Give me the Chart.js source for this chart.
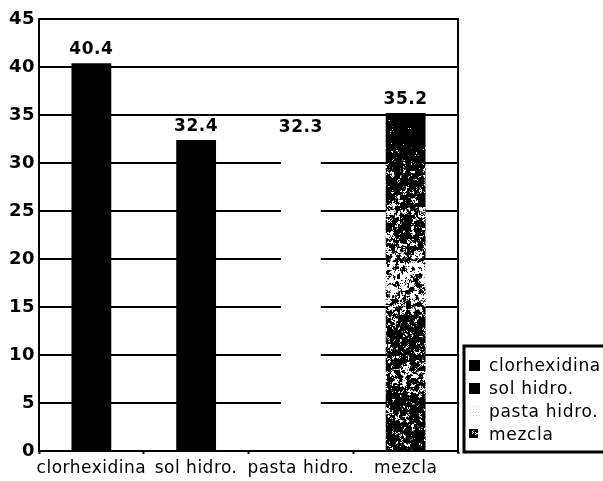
<!DOCTYPE html>
<html>
<head>
<meta charset="utf-8">
<script src="https://cdn.jsdelivr.net/npm/chart.js@4.4.1/dist/chart.umd.min.js"></script>
<style>
  html, body { margin: 0; padding: 0; background: #ffffff; }
  canvas { display: block; }
</style>
</head>
<body>
<canvas id="chart" width="603" height="481"></canvas>
<script>
// Treatment groups and their measured values
const categories = ['clorhexidina', 'sol hidro.', 'pasta hidro.', 'mezcla'];
const values = [40.4, 32.4, 32.3, 35.2];
const yTickValues = [0, 5, 10, 15, 20, 25, 30, 35, 40, 45];
const legendLabels = ['clorhexidina', 'sol hidro.', 'pasta hidro.', 'mezcla'];

// ---- grainy fill used for the "mezcla" bar (deterministic speckle texture) ----
function hash(x, y) {
  let h = Math.imul(x | 0, 374761393) + Math.imul(y | 0, 668265263);
  h = Math.imul(h ^ (h >>> 13), 1274126177);
  h ^= h >>> 16;
  return (h >>> 0) / 4294967296;
}
function smoothNoise(x, y, seed) {
  const xi = Math.floor(x), yi = Math.floor(y);
  const fx = x - xi, fy = y - yi;
  const a = hash(xi + seed, yi), b = hash(xi + 1 + seed, yi);
  const c = hash(xi + seed, yi + 1), d = hash(xi + 1 + seed, yi + 1);
  const u = fx * fx * (3 - 2 * fx), v = fy * fy * (3 - 2 * fy);
  return a + (b - a) * u + (c - a) * v + (a - b - c + d) * u * v;
}
// darkness of the speckle along the canvas height
const toneStops = [[0, 0.9], [140, 0.85], [165, 0.7], [195, 0.64], [212, 0.5], [225, 0.62],
                   [245, 0.58], [262, 0.47], [292, 0.47], [306, 0.55], [326, 0.68], [360, 0.66],
                   [376, 0.56], [393, 0.62], [410, 0.68], [481, 0.68]];
function toneAt(y) {
  for (let i = 1; i < toneStops.length; i++) {
    const [y1, t1] = toneStops[i];
    const [y0, t0] = toneStops[i - 1];
    if (y <= y1) return t0 + (t1 - t0) * (y - y0) / (y1 - y0);
  }
  return toneStops[toneStops.length - 1][1];
}
function makeGrainCanvas(w, h) {
  const c = document.createElement('canvas');
  c.width = w; c.height = h;
  const g = c.getContext('2d');
  const img = g.createImageData(w, h);
  for (let y = 0; y < h; y++) {
    for (let x = 0; x < w; x++) {
      const v = toneAt(y)
        + 0.55 * (smoothNoise(x / 4, y / 4, 101) - 0.5)
        + 0.35 * (smoothNoise(x / 1.6, y / 1.6, 503) - 0.5)
        + 0.3 * (hash(x + 1013, y + 7919) - 0.5);
      const val = v > 0.5 ? 0 : (v > 0.46 ? 110 : 255);
      const k = (y * w + x) * 4;
      img.data[k] = img.data[k + 1] = img.data[k + 2] = val;
      img.data[k + 3] = 255;
    }
  }
  g.putImageData(img, 0, 0);
  return c;
}

const canvas = document.getElementById('chart');
const ctx0 = canvas.getContext('2d');
const grainPattern = ctx0.createPattern(makeGrainCanvas(40, 481), 'repeat');

const barColors = ['#000000', '#000000', '#ffffff', grainPattern];

const FONT_SANS = 'DejaVu Sans';

// letter spacing for all text on the chart
const spacingPlugin = {
  id: 'spacing',
  beforeDraw(chart) { chart.ctx.letterSpacing = '0.5px'; }
};

// plot frame on the right side
const framePlugin = {
  id: 'frame',
  afterDatasetsDraw(chart) {
    const { ctx, chartArea } = chart;
    ctx.save();
    ctx.strokeStyle = '#000';
    ctx.lineWidth = 2;
    ctx.beginPath();
    ctx.moveTo(chartArea.right, chartArea.top - 1);
    ctx.lineTo(chartArea.right, chartArea.bottom + 2);
    ctx.stroke();
    ctx.restore();
  }
};

// value labels above each bar
const valueLabelPlugin = {
  id: 'valueLabels',
  afterDatasetsDraw(chart) {
    const { ctx } = chart;
    const meta = chart.getDatasetMeta(0);
    ctx.save();
    ctx.letterSpacing = '0.6px';
    ctx.font = 'bold 17px "' + FONT_SANS + '"';
    ctx.fillStyle = '#000';
    ctx.textAlign = 'center';
    ctx.textBaseline = 'alphabetic';
    meta.data.forEach((bar, i) => {
      ctx.fillText(values[i].toFixed(1), bar.x, bar.y - 9);
    });
    ctx.restore();
  }
};

// boxed legend at the lower right
const legendBoxPlugin = {
  id: 'legendBox',
  afterDraw(chart) {
    const { ctx, chartArea } = chart;
    const left = chartArea.right + 6;
    const top = 346;
    const bottom = chartArea.bottom + 1;
    ctx.save();
    ctx.fillStyle = '#fff';
    ctx.fillRect(left, top, 200, bottom - top);
    ctx.strokeStyle = '#000';
    ctx.lineWidth = 3;
    ctx.strokeRect(left, top, 200, bottom - top);
    ctx.font = '17px "' + FONT_SANS + '"';
    ctx.letterSpacing = '0.7px';
    ctx.textBaseline = 'middle';
    ctx.textAlign = 'left';
    legendLabels.forEach((label, i) => {
      const cy = 366 + i * 23;
      const sx = left + 5, sy = cy - 6, s = 11;
      if (i === 2) {
        ctx.fillStyle = '#d8d8d8';
        for (let yy = 0; yy < s; yy += 3) {
          for (let xx = (yy % 2); xx < s; xx += 3) ctx.fillRect(sx + xx, sy + yy, 1, 1);
        }
      } else {
        ctx.fillStyle = barColors[i];
        ctx.fillRect(sx, sy, i === 3 ? 9 : s, i === 3 ? 9 : s);
      }
      ctx.fillStyle = '#000';
      ctx.fillText(label, left + 25, cy + 1);
    });
    ctx.restore();
  }
};

new Chart(canvas, {
  type: 'bar',
  data: {
    labels: categories,
    datasets: [{
      data: values,
      backgroundColor: barColors,
      borderWidth: 0,
      barPercentage: 0.38,
      categoryPercentage: 1.0
    }]
  },
  options: {
    responsive: false,
    animation: false,
    devicePixelRatio: 1,
    layout: { padding: { left: 0, top: 19, right: 145, bottom: 0 } },
    plugins: {
      legend: { display: false },
      tooltip: { enabled: false }
    },
    scales: {
      x: {
        grid: {
          offset: true,
          drawOnChartArea: false,
          drawTicks: true,
          tickLength: 3,
          tickWidth: 2,
          tickColor: '#000'
        },
        border: { display: true, color: '#000', width: 2 },
        ticks: {
          color: '#000',
          font: { family: FONT_SANS, size: 17 },
          padding: 4,
          maxRotation: 0,
          autoSkip: false
        },
        afterFit(scale) { scale.height = 30; }
      },
      y: {
        min: 0,
        max: 45,
        afterBuildTicks(scale) { scale.ticks = yTickValues.map(v => ({ value: v })); },
        grid: {
          color: '#000',
          lineWidth: 2,
          drawTicks: false
        },
        border: { display: true, color: '#000', width: 2 },
        ticks: {
          color: '#000',
          font: { family: FONT_SANS, size: 18, weight: 'bold' },
          padding: 4
        },
        afterFit(scale) { scale.width = 39; }
      }
    }
  },
  plugins: [spacingPlugin, valueLabelPlugin, framePlugin, legendBoxPlugin]
});
</script>
</body>
</html>
